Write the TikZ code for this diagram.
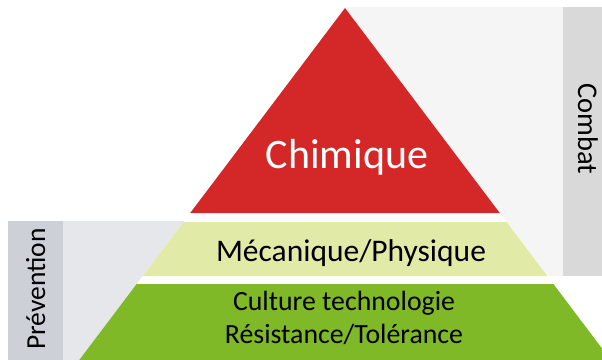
\documentclass[tikz,border=0pt]{standalone}
\usepackage{fontspec}
\setmainfont{Carlito}
\definecolor{chimred}{HTML}{D42727}
\definecolor{mecyellow}{HTML}{E2EAA8}
\definecolor{culgreen}{HTML}{80B928}
\definecolor{prevdark}{HTML}{CDD0D7}
\definecolor{prevlight}{HTML}{E6E7EB}
\definecolor{combdark}{HTML}{D9D9D9}
\definecolor{comblight}{HTML}{F5F5F5}
\tikzset{
  lbl/.style={inner sep=0pt, anchor=base, text=black},
}
\begin{document}
\begin{tikzpicture}[x=1pt,y=-1pt]
\useasboundingbox (0,0) rectangle (602,359);
\clip (0,0) rectangle (602,359);
% side bands
\fill[comblight] (345,7) rectangle (563,276);
\fill[combdark] (563,7) rectangle (610,276);
\fill[prevlight] (63,221) rectangle (200,365);
\fill[prevdark] (8,221) rectangle (63,365);
% pyramid envelope (white)
\fill[white] (345,8) -- (345+0.755*357,365) -- (345-0.755*357,365) -- cycle;
% layers
\fill[chimred] (345,8) -- (345+0.755*205,213) -- (345-0.755*205,213) -- cycle;
\fill[mecyellow] (345-0.755*214,222) -- (345+0.755*214,222) -- (345+0.755*268,276) -- (345-0.755*268,276) -- cycle;
\fill[culgreen] (345-0.755*276,284) -- (345+0.755*276,284) -- (345+0.755*360,368) -- (345-0.755*360,368) -- cycle;
% texts
\node[lbl, text=white, font=\fontsize{42}{48}\selectfont] (chim) at (347,168) {Chimique};
\node[lbl, font=\fontsize{31.5}{36}\selectfont] (mec) at (351,261) {Mécanique/Physique};
\node[lbl, font=\fontsize{27.8}{33}\selectfont] (cul) at (344,310) {Culture technologie};
\node[lbl, font=\fontsize{27.8}{33}\selectfont] (res) at (344,343) {Résistance/Tolérance};
\node[lbl, rotate=90, font=\fontsize{27.5}{33}\selectfont] (prev) at (45,289) {Prévention};
\node[lbl, rotate=-90, font=\fontsize{28.5}{33}\selectfont] (comb) at (578,129) {Combat};
\end{tikzpicture}
\end{document}
